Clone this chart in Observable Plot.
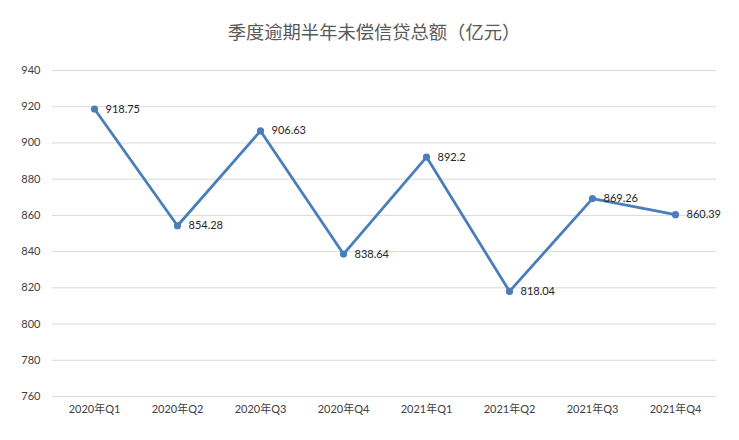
<!DOCTYPE html>
<html>
<head>
<meta charset="utf-8">
<script src="https://cdn.jsdelivr.net/npm/d3@7"></script>
<script src="https://cdn.jsdelivr.net/npm/@observablehq/plot@0.6"></script>
<style>
  html, body { margin: 0; padding: 0; background: #fff; }
  #wrap { width: 739px; height: 440px; position: relative; }
  #title { height: 50px; line-height: 63px; text-align: center; padding-left: 9px; font-family: "Noto Sans CJK SC", sans-serif; font-size: 18.3px; color: #595959; }
</style>
</head>
<body>
<div id="wrap">
  <div id="title">季度逾期半年未偿信贷总额（亿元）</div>
  <div id="chart"></div>
</div>
<script>
const quarters = ["2020年Q1", "2020年Q2", "2020年Q3", "2020年Q4", "2021年Q1", "2021年Q2", "2021年Q3", "2021年Q4"];
const values = [918.75, 854.28, 906.63, 838.64, 892.2, 818.04, 869.26, 860.39];
const labels = ["918.75", "854.28", "906.63", "838.64", "892.2", "818.04", "869.26", "860.39"];
const yTicks = [760, 780, 800, 820, 840, 860, 880, 900, 920, 940];

const data = quarters.map((q, i) => ({q, v: values[i], label: labels[i]}));
const font = "Lato, 'Noto Sans CJK SC', sans-serif";

const chart = Plot.plot({
  width: 739,
  height: 390,
  marginLeft: 52,
  marginRight: 23,
  marginTop: 20,
  marginBottom: 44,
  style: { fontFamily: font, fontSize: "11px", color: "#404040", background: "#fff" },
  x: { type: "point", domain: quarters, padding: 0.5, label: null },
  y: { domain: [760, 940], ticks: yTicks, label: null },
  marks: [
    Plot.gridY(yTicks, { stroke: "#d9d9d9", strokeOpacity: 1, strokeWidth: 1 }),
    Plot.axisY(yTicks, { tickSize: 0, tickPadding: 12, fill: "#404040", fontSize: 11 }),
    Plot.axisX({ tickSize: 0, tickPadding: 9, fill: "#404040", fontSize: 11 }),
    Plot.line(data, { x: "q", y: "v", stroke: "#4a7ebb", strokeWidth: 2.8 }),
    Plot.dot(data, { x: "q", y: "v", fill: "#4a7ebb", r: 3.6 }),
    Plot.text(data, { x: "q", y: "v", text: "label", dx: 11, textAnchor: "start", fill: "#262626", fontSize: 11 })
  ]
});
document.getElementById("chart").appendChild(chart);
</script>
</body>
</html>
